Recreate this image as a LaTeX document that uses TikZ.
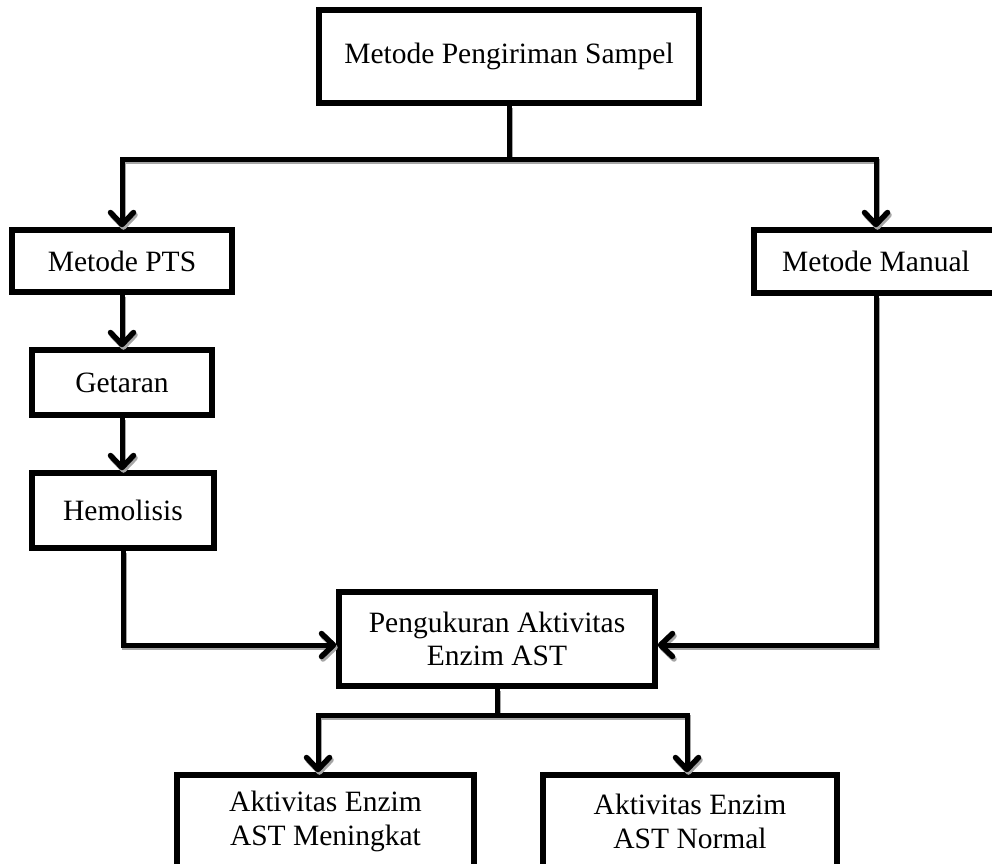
\documentclass[tikz,border=0pt]{standalone}
\usepackage{fontspec}
\setmainfont{Liberation Serif}
\usetikzlibrary{arrows.meta}
\begin{document}
\begin{tikzpicture}[x=1pt,y=-1pt,
  box/.style={draw=black, line width=5.5pt, rectangle, inner sep=0pt, align=center,
    font=\fontsize{29.5}{33.5}\selectfont, text=black},
  conn/.style={line width=5pt, line cap=butt,
    preaction={draw=black!35, line width=5pt, transform canvas={shift={(1.5pt,-2.5pt)}}}},
  arr/.style={conn, -{Straight Barb[length=12pt,width=23pt,line width=5.5pt,round]}}
]
\useasboundingbox (0,0) rectangle (992,863);

\node[box, minimum width=380pt, minimum height=93pt] (top) at (509,56.5) {Metode Pengiriman Sampel};
\node[box, minimum width=220pt, minimum height=62pt] (pts) at (122,261) {Metode PTS};
\node[box, minimum width=244pt, minimum height=63pt] (manual) at (876,261.5) {Metode Manual};
\node[box, minimum width=180pt, minimum height=65pt] (getaran) at (122,382.5) {Getaran};
\node[box, minimum width=182pt, minimum height=75pt] (hemo) at (123,510.5) {Hemolisis};
\node[box, minimum width=316pt, minimum height=94pt] (peng) at (497,639) {Pengukuran Aktivitas\\Enzim AST};
\node[box, minimum width=297pt, minimum height=93pt] (lb) at (325.5,821.5) {Aktivitas Enzim\\AST Meningkat};
\node[box, minimum width=294pt, minimum height=93pt] (rb) at (690,821.5) {Aktivitas Enzim\\AST Normal};

\coordinate (jt) at (509,159);
\coordinate (jb) at (497,715);

\draw[conn] (top.south) -- (jt);
\draw[arr] (jt) -| (pts.north);
\draw[arr] (jt) -| (manual.north);
\draw[arr] (pts.south) -- (getaran.north);
\draw[arr] (getaran.south) -- (getaran.south |- hemo.north);
\draw[arr] (hemo.south) |- ([yshift=-6pt]peng.west);
\draw[arr] (manual.south) |- ([yshift=-6pt]peng.east);
\draw[conn] (peng.south) -- (jb);
\draw[arr] (jb) -| ([xshift=-7.5pt]lb.north);
\draw[arr] (jb) -| ([xshift=-3pt]rb.north);
\end{tikzpicture}
\end{document}
